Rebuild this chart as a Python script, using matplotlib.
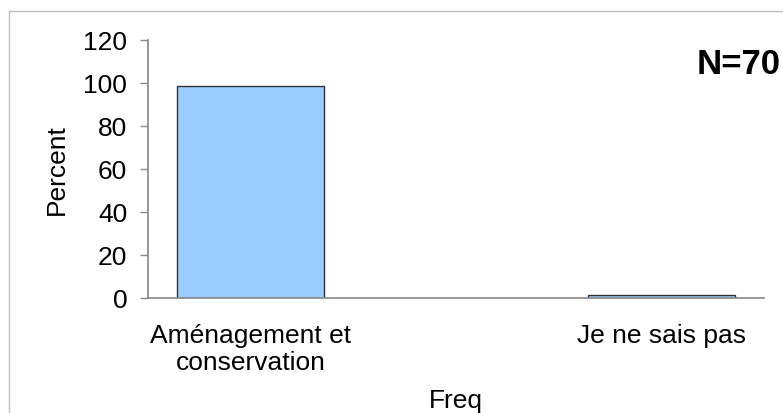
import matplotlib
matplotlib.use("Agg")
import matplotlib.pyplot as plt
from matplotlib.lines import Line2D

categories = ["Aménagement et\nconservation", "Je ne sais pas"]
percent = [98.57, 1.43]
n_total = 70

plt.rcParams["font.family"] = ["Liberation Sans", "DejaVu Sans"]

W, H = 783, 414
fig = plt.figure(figsize=(W / 100, H / 100), dpi=100)
ax = fig.add_axes([148 / W, 1 - 298.7 / H, (764 - 148) / W, (298.7 - 41) / H])

x = range(len(categories))
ax.bar(x, percent, width=0.357, color="#99CCFF", edgecolor="#333333", linewidth=1.0)

ax.set_xlim(-0.25, 1.25)
ax.set_ylim(0, 120)
ax.set_yticks(range(0, 121, 20))
ax.set_xticks(list(x))
ax.set_xticklabels(categories, fontsize=19, linespacing=1.2)
ax.tick_params(axis="y", labelsize=19, length=6, width=1, color="#888888", pad=9)
ax.tick_params(axis="x", length=0, pad=18)

for s in ["top", "right"]:
    ax.spines[s].set_visible(False)
for s in ["left", "bottom"]:
    ax.spines[s].set_color("#888888")
    ax.spines[s].set_linewidth(1.2)

ax.set_ylabel("Percent", fontsize=19, labelpad=10)
ax.set_xlabel("Freq", fontsize=19, labelpad=10)

fig.text(781 / W, 1 - 65 / H, f"N={n_total}", fontsize=25, fontweight="bold",
         ha="right", va="center")

# outer chart frame
fig.add_artist(Line2D([9 / W, 9 / W], [0, 1 - 12 / H], transform=fig.transFigure,
                      color="#c0c0c0", linewidth=1))
fig.add_artist(Line2D([9 / W, 1], [1 - 12 / H, 1 - 12 / H], transform=fig.transFigure,
                      color="#c0c0c0", linewidth=1))

fig.savefig("out.png", dpi=100)
